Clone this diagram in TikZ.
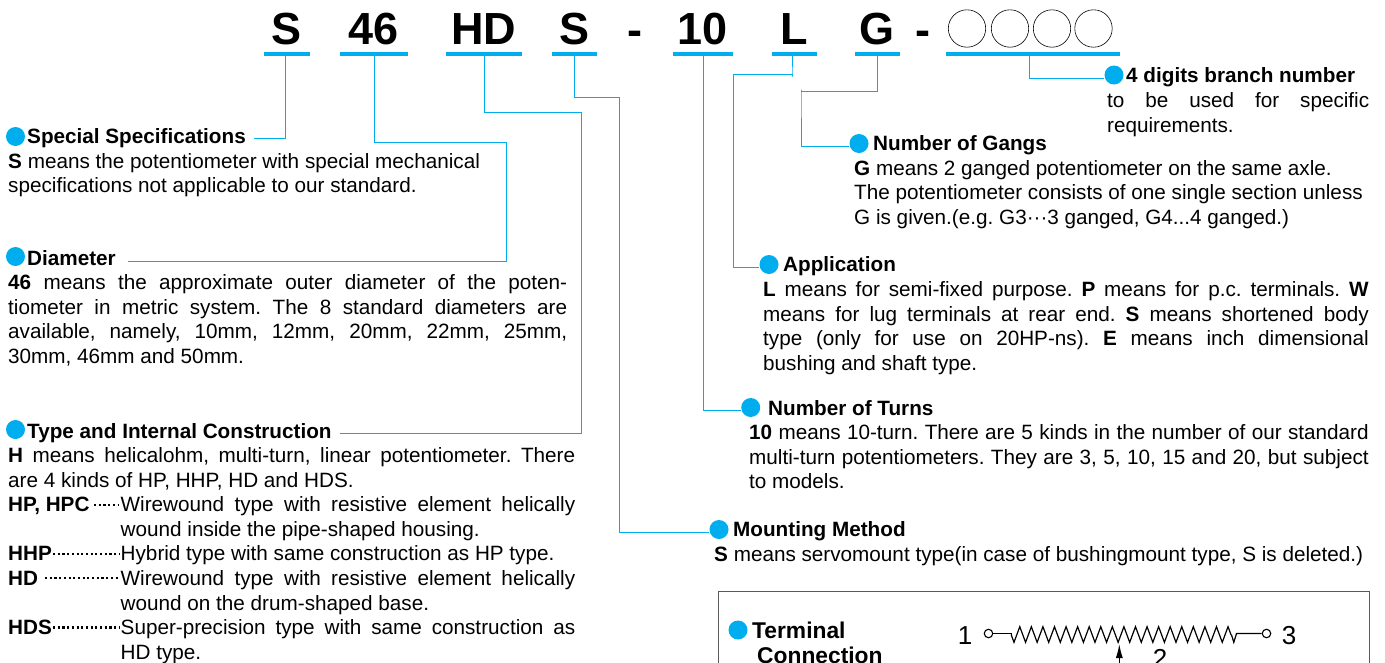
\documentclass[tikz,border=0pt]{standalone}
\usepackage{fontspec}
\setmainfont{Liberation Sans}
\usepackage{tikz}
\usetikzlibrary{arrows.meta}
\usetikzlibrary{decorations.pathmorphing}
\definecolor{codeblue}{HTML}{00AEEF}
\tolerance=9999
\hbadness=10000
\hfuzz=20pt
\frenchspacing
\tikzset{
    codetext/.style = {font=\fontsize{45}{50}\selectfont\bfseries, inner sep=0pt},
    codebar/.style = {fill=codeblue, minimum height=4pt, inner sep=0pt},
    leader/.style = {draw=codeblue, line width=0.9pt},
    bullet/.style = {circle, fill=codeblue, minimum size=19pt, inner sep=0pt},
    headtext/.style = {font=\fontsize{20.7}{24.7}\selectfont\bfseries, anchor=base west, inner sep=0pt},
    termhead/.style = {font=\fontsize{22.8}{24.7}\selectfont\bfseries, anchor=base west, inner sep=0pt},
    termtext/.style = {font=\fontsize{26}{30}\selectfont, inner sep=0pt},
    bodytext/.style = {font=\fontsize{20.7}{24.7}\selectfont, anchor=north west, inner sep=0pt, align=justify, execute at begin node=\strut},
    plaintext/.style = {font=\fontsize{20.7}{24.7}\selectfont, anchor=north west, inner sep=0pt, align=left, execute at begin node=\strut},
    rowdots/.style = {line width=2.1pt, dash pattern=on 2.1pt off 2.6pt},
    wire/.style = {line width=1.2pt},
    pin/.style = {circle, draw, line width=1.1pt, minimum size=8.5pt, inner sep=0pt},
}
\begin{document}
\begin{tikzpicture}[
        x = 1pt,
        y = -1pt,
        ]
        \useasboundingbox (0,0) rectangle (1385,662);

        % Code letters
        \node (codeS) at (287,29.5) [codetext] {S};
        \node (code46) at (373.5,29.5) [codetext] {46};
        \node (codeHD) at (484,29.5) [codetext] {HD};
        \node (codeMount) at (574.5,29.5) [codetext] {S};
        \node (dashA) at (635,38) [codetext] {-};
        \node (code10) at (703,29.5) [codetext] {10};
        \node (codeL) at (794,29.5) [codetext] {L};
        \node (codeG) at (877,29.5) [codetext] {G};
        \node (dashB) at (923,38) [codetext] {-};

        % Branch number circles
        \draw [line width=0.6pt] (967,28.5) circle (18.7);
        \draw [line width=0.6pt] (1010,28.5) circle (18.7);
        \draw [line width=0.6pt] (1052,28.5) circle (18.7);
        \draw [line width=0.6pt] (1093.5,28.5) circle (18.7);

        % Bars
        \node (barS) at (287,54) [codebar, minimum width=46pt] {};
        \node (bar46) at (374,54) [codebar, minimum width=68pt] {};
        \node (barHD) at (484,54) [codebar, minimum width=76pt] {};
        \node (barMount) at (574.5,54) [codebar, minimum width=45pt] {};
        \node (bar10) at (703,54) [codebar, minimum width=60pt] {};
        \node (barL) at (794,54) [codebar, minimum width=45pt] {};
        \node (barG) at (877.5,54) [codebar, minimum width=45pt] {};
        \node (barBranch) at (1033,54) [codebar, minimum width=174pt] {};

        % Bullets
        \node (dotSpecial) at (15.5,136.5) [bullet] {};
        \node (dotDiameter) at (15.5,256.5) [bullet] {};
        \node (dotType) at (15.5,429.5) [bullet] {};
        \node (dotBranch) at (1114,75) [bullet] {};
        \node (dotGangs) at (859,143.5) [bullet] {};
        \node (dotApp) at (769,264.5) [bullet] {};
        \node (dotTurns) at (750.7,407.5) [bullet] {};
        \node (dotMount) at (719,529.5) [bullet] {};
        \node (dotTerminal) at (738,630) [bullet] {};

        % Special specifications
        \node (headSpecial) at (27,143) [headtext] {Special Specifications};
        \node (textSpecial) at (8,153) [plaintext] {\textbf{S} means the potentiometer with special mechanical\\
            specifications not applicable to our standard.};

        % Diameter
        \node (headDiameter) at (27,265) [headtext] {Diameter};
        \node (textDiameter) at (8,272) [bodytext, text width=559pt] {\textbf{46} means the approximate outer diameter of the poten-\linebreak
            tiometer in metric system. The 8 standard diameters are\linebreak
            available, namely, 10mm, 12mm, 20mm, 22mm, 25mm,\linebreak
            30mm, 46mm and 50mm.};

        % Type and internal construction
        \node (headType) at (27,438) [headtext] {Type and Internal Construction};
        \node (textType) at (8,445) [bodytext, text width=567pt] {\textbf{H} means helicalohm, multi-turn, linear potentiometer. There\linebreak
            are 4 kinds of HP, HHP, HD and HDS.};
        \node (labelHP) at (8,494) [plaintext] {\textbf{HP, HPC}};
        \node (textHP) at (120.5,494) [bodytext, text width=454.5pt] {Wirewound type with resistive element helically\linebreak
            wound inside the pipe-shaped housing.};
        \node (labelHHP) at (8,543) [plaintext] {\textbf{HHP}};
        \node (textHHP) at (120.5,543) [plaintext] {Hybrid type with same construction as HP type.};
        \node (labelHD) at (8,568) [plaintext] {\textbf{HD}};
        \node (textHD) at (120.5,568) [bodytext, text width=454.5pt] {Wirewound type with resistive element helically\linebreak
            wound on the drum-shaped base.};
        \node (labelHDS) at (8,617) [plaintext] {\textbf{HDS}};
        \node (textHDS) at (120.5,617) [bodytext, text width=454.5pt] {Super-precision type with same construction as\linebreak
            HD type.};

        % Row dots
        \draw [rowdots] (94,505) -- (119,505);
        \draw [rowdots] (53,554) -- (119,554);
        \draw [rowdots] (45,578) -- (119,578);
        \draw [rowdots] (53,627.5) -- (119,627.5);

        % Branch number
        \node (headBranch) at (1126,82) [headtext] {4 digits branch number};
        \node (textBranch) at (1107,90) [bodytext, text width=262pt] {to be used for specific\linebreak
            requirements.};

        % Number of gangs
        \node (headGangs) at (873,150) [headtext] {Number of Gangs};
        \node (textGangs) at (854,160) [plaintext] {\textbf{G} means 2 ganged potentiometer on the same axle.\\
            The potentiometer consists of one single section unless\\
            G is given.(e.g. G3···3 ganged, G4...4 ganged.)};

        % Application
        \node (headApp) at (783,271) [headtext] {Application};
        \node (textApp) at (763,279) [bodytext, text width=605.5pt] {\textbf{L} means for semi-fixed purpose. \textbf{P} means for p.c. terminals. \textbf{W}\linebreak
            means for lug terminals at rear end. \textbf{S} means shortened body\linebreak
            type (only for use on 20HP-ns). \textbf{E} means inch dimensional\linebreak
            bushing and shaft type.};

        % Number of turns
        \node (headTurns) at (768,415) [headtext] {Number of Turns};
        \node (textTurns) at (749,422) [bodytext, text width=619.5pt] {\textbf{10} means 10-turn. There are 5 kinds in the number of our standard\linebreak
            multi-turn potentiometers. They are 3, 5, 10, 15 and 20, but subject\linebreak
            to models.};

        % Mounting method
        \node (headMount) at (733,536) [headtext] {Mounting Method};
        \node (textMount) at (714,544) [plaintext] {\textbf{S} means servomount type(in case of bushingmount type, S is deleted.)};

        % Connectors
        \draw [leader] ([xshift=-2pt]barS.south) |- ([xshift=8pt,yshift=5pt]headSpecial.base east);
        \draw [leader] (bar46.south) |- (506.5,142.5) |- ([xshift=12pt,yshift=4pt]headDiameter.base east);
        \draw [leader] (barHD.south) |- (581.7,112.5) |- ([xshift=8pt,yshift=5pt]headType.base east);
        \draw [leader] (barMount.south) |- (619.7,97) |- ([yshift=-2.5pt]dotMount.west);
        \draw [leader] (bar10.south) |- ([yshift=-3pt]dotTurns.west);
        \draw [leader] ([xshift=-2pt]barL.south) -- ++(0,20.7) -- ++(0,-2.2) -| (733,267) -- ([yshift=-2.5pt]dotApp.west);
        \draw [leader] (barG.south) |- (801,91.7) -- ++(0,-2) -- (801,146) -- ([yshift=-2.5pt]dotGangs.west);
        \draw [leader] ([xshift=-3.5pt]barBranch.south) |- ([yshift=-3pt]dotBranch.west);

        % Terminal connection box
        \draw [draw=black!65] (718.5,591) rectangle (1369,700);
        \node (headTerm) at (752,638) [termhead] {Terminal};
        \node (headConn) at (757,663) [termhead] {Connection};

        % Resistor
        \node (termA) at (965,635.5) [termtext] {1};
        \node (termC) at (1289,635.5) [termtext] {3};
        \node (termB) at (1160,658) [termtext] {2};
        \node (pinA) at (988.5,633.5) [pin] {};
        \node (pinC) at (1266.5,633.5) [pin] {};
        \coordinate (wipeEnd) at (1119.3,680);
        \coordinate (wipeTip) at (1119.3,644);
        \draw [wire] (pinA) -- (1011.1,633.5) -- (1011.1,634.5);
        \draw [wire, decorate, decoration={zigzag, segment length=11.57pt, amplitude=7.8pt, mirror}] (1011.1,634.5) -- (1231.4,634.5);
        \draw [wire] (1231.4,634.5) -- (1233.8,642.3) -- (1236.5,633.5) -- (pinC);
        \draw [-{Latex[length=14pt,width=7pt]}, wire] (wipeEnd) -- (wipeTip);
    \end{tikzpicture}
\end{document}
